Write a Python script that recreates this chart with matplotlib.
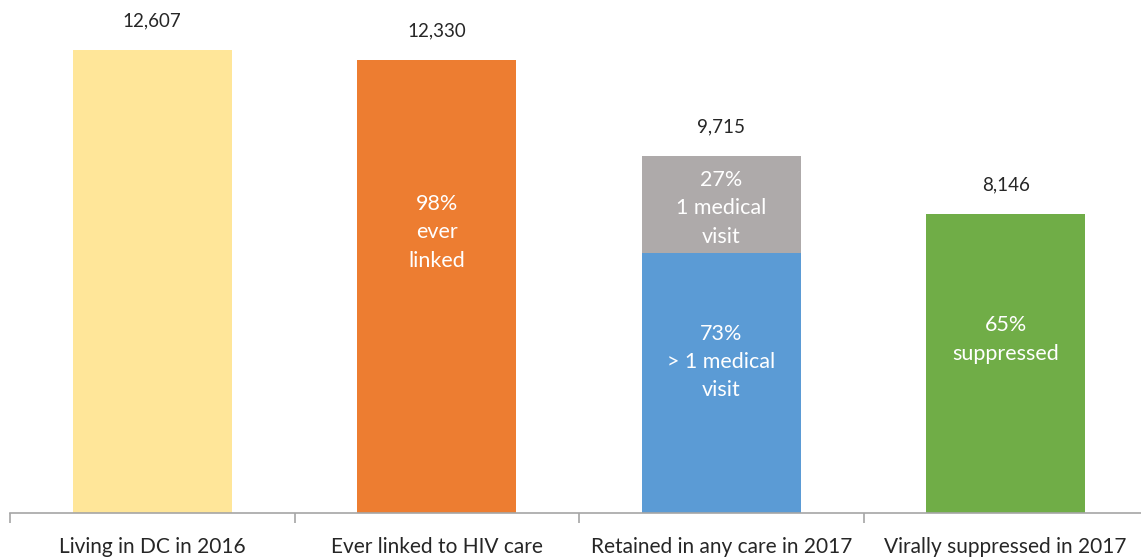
import matplotlib
matplotlib.use('Agg')
import matplotlib.pyplot as plt

plt.rcParams['font.family'] = ['Lato', 'DejaVu Sans']

CATEGORIES = ['Living in DC in 2016', 'Ever linked to HIV care',
              'Retained in any care in 2017', 'Virally suppressed in 2017']
TOTALS = [12607, 12330, 9715, 8146]
# retained bar split: > 1 visit (bottom) and 1 visit (top)
RETAINED_MULTI = 7092
RETAINED_ONE = 2623

COLORS = ['#FFE699', '#ED7D31', '#5B9BD5', '#70AD47']
GRAY = '#AEAAAA'
TEXT = '#262626'

fig = plt.figure(figsize=(11.41, 5.59), dpi=100)
ax = fig.add_axes([10 / 1141, 46 / 559, 1138 / 1141, 513 / 559])

x = list(range(len(CATEGORIES)))
width = 0.56

bottoms = [TOTALS[0], TOTALS[1], RETAINED_MULTI, TOTALS[3]]
ax.bar(x, bottoms, width=width, color=COLORS, zorder=2)
ax.bar([2], [RETAINED_ONE], bottom=[RETAINED_MULTI], width=width, color=GRAY, zorder=2)

for i, v in enumerate(TOTALS):
    ax.annotate('{:,}'.format(v), xy=(i, v), xytext=(0, 21), textcoords='offset points',
                ha='center', va='center', fontsize=13.5, color=TEXT)

inner = dict(ha='center', va='center', fontsize=15.5, color='white', linespacing=1.52)
ax.text(1, TOTALS[1] * 0.62, '98%\never\nlinked', **inner)
ax.text(2, RETAINED_MULTI + RETAINED_ONE * 0.46, '27%\n1 medical\nvisit', **inner)
ax.text(2, RETAINED_MULTI * 0.58, '73%\n> 1 medical\nvisit', **inner)
ax.text(3, TOTALS[3] * 0.58, '65%\nsuppressed', **inner)

ax.set_xlim(-0.5, 3.5)
ax.set_ylim(0, 13970)
ax.set_yticks([])
ax.set_xticks([-0.5, 0.5, 1.5, 2.5, 3.5])
ax.set_xticklabels([])
ax.set_xticks(x, minor=True)
ax.set_xticklabels(CATEGORIES, minor=True, fontsize=15, color=TEXT)
ax.tick_params(axis='x', which='major', length=7, color='#A6A6A6', width=1.2)
ax.tick_params(axis='x', which='minor', length=0, pad=17)
for s in ['top', 'right', 'left']:
    ax.spines[s].set_visible(False)
ax.spines['bottom'].set_color('#A6A6A6')
ax.spines['bottom'].set_linewidth(1.2)

fig.savefig('out.png', dpi=100)
